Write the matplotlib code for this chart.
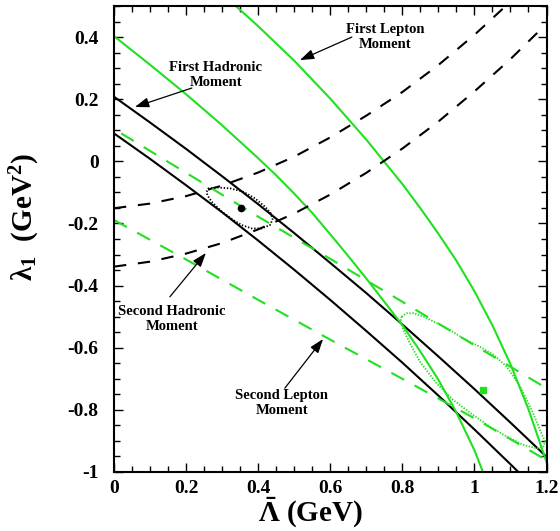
import matplotlib
matplotlib.use("Agg")
import matplotlib.pyplot as plt
from matplotlib.ticker import MultipleLocator, FixedLocator, FixedFormatter

plt.rcParams['font.family'] = ['Liberation Serif', 'DejaVu Serif']
plt.rcParams['mathtext.fontset'] = 'custom'
plt.rcParams['mathtext.rm'] = 'Liberation Serif:bold'
plt.rcParams['mathtext.it'] = 'Liberation Serif:bold'
plt.rcParams['mathtext.bf'] = 'Liberation Serif:bold'
plt.rcParams['lines.scale_dashes'] = False

# ---------------- data ----------------
# First hadronic moment band (black solid)
h1_up_x = [0, 0.1, 0.2, 0.3, 0.4, 0.5, 0.6, 0.7, 0.8, 0.9, 1.0, 1.1, 1.2]
h1_up_y = [0.208, 0.125, 0.040, -0.048, -0.138, -0.231, -0.327, -0.424, -0.525, -0.628, -0.733, -0.841, -0.951]
h1_lo_x = [0, 0.1, 0.2, 0.3, 0.4, 0.5, 0.6, 0.7, 0.8, 0.9, 1.0, 1.1, 1.122]
h1_lo_y = [0.090, 0.008, -0.077, -0.164, -0.255, -0.349, -0.446, -0.546, -0.648, -0.754, -0.863, -0.975, -1.0]

# First lepton moment band (green solid)
l1_a_x = [0, 0.1, 0.2, 0.3, 0.4, 0.45, 0.5, 0.55, 0.6, 0.65, 0.7, 0.75, 0.8, 0.85, 0.9, 0.95, 1.0, 1.022]
l1_a_y = [0.403, 0.311, 0.216, 0.116, 0.010, -0.045, -0.104, -0.166, -0.235, -0.305, -0.377, -0.452,
          -0.527, -0.612, -0.703, -0.808, -0.930, -0.995]
l1_b_x = [0.338, 0.4, 0.5, 0.6, 0.7, 0.8, 0.85, 0.9, 0.95, 1.0, 1.05, 1.1, 1.15, 1.2]
l1_b_y = [0.5, 0.435, 0.324, 0.202, 0.070, -0.073, -0.151, -0.233, -0.320, -0.418, -0.528, -0.653,
          -0.798, -0.968]

# Second hadronic moment band (black dashed)
h2_up_x = [0, 0.1, 0.2, 0.3, 0.4, 0.5, 0.6, 0.7, 0.8, 0.9, 1.0, 1.087]
h2_up_y = [-0.151, -0.136, -0.112, -0.078, -0.036, 0.015, 0.077, 0.147, 0.223, 0.310, 0.407, 0.50]
h2_lo_x = [0, 0.1, 0.2, 0.3, 0.4, 0.5, 0.6, 0.7, 0.8, 0.9, 1.0, 1.1, 1.18]
h2_lo_y = [-0.339, -0.323, -0.297, -0.263, -0.219, -0.168, -0.107, -0.037, 0.041, 0.128, 0.225, 0.329, 0.42]

# Second lepton moment band (green dashed)
l2_up_x = [0.02, 0.2, 0.4, 0.6, 0.8, 1.0, 1.185]
l2_up_y = [0.09, -0.037, -0.178, -0.314, -0.452, -0.592, -0.72]
l2_lo_x = [0, 0.2, 0.4, 0.6, 0.8, 1.0, 1.2]
l2_lo_y = [-0.189, -0.316, -0.446, -0.574, -0.700, -0.827, -0.962]

# Hadronic fit contour (black dotted) and best fit point
hfit_x = [0.257, 0.262, 0.285, 0.322, 0.359, 0.391, 0.419, 0.435, 0.440, 0.433, 0.410, 0.382,
          0.354, 0.331, 0.299, 0.271, 0.259, 0.257]
hfit_y = [-0.098, -0.087, -0.084, -0.087, -0.098, -0.119, -0.146, -0.167, -0.187, -0.205, -0.216,
          -0.216, -0.205, -0.189, -0.162, -0.130, -0.109, -0.098]
hbest = (0.352, -0.150)

# Leptonic fit contour (green dotted) and best fit point
lfit_x = [0.798, 0.812, 0.831, 0.859, 0.896, 0.932, 0.969, 1.016, 1.053, 1.090, 1.127, 1.159, 1.182,
          1.196, 1.191, 1.173, 1.136, 1.090, 1.043, 0.997, 0.941, 0.895, 0.849, 0.821, 0.803, 0.795, 0.798]
lfit_y = [-0.500, -0.489, -0.489, -0.500, -0.521, -0.543, -0.570, -0.597, -0.623, -0.661, -0.725,
          -0.800, -0.865, -0.902, -0.918, -0.924, -0.913, -0.886, -0.854, -0.817, -0.768, -0.715,
          -0.645, -0.586, -0.543, -0.516, -0.500]
lbest = (1.025, -0.735)

x_ticks = [0, 0.2, 0.4, 0.6, 0.8, 1.0, 1.2]
x_ticklabels = ["0", "0.2", "0.4", "0.6", "0.8", "1", "1.2"]
y_ticks = [-1, -0.8, -0.6, -0.4, -0.2, 0, 0.2, 0.4]
y_ticklabels = ["-1", "-0.8", "-0.6", "-0.4", "-0.2", "0", "0.2", "0.4"]

# annotations: text, text position, arrow tail, arrow head
annotations = [
    ("First Hadronic\nMoment", (0.283, 0.278), (0.216, 0.236), (0.058, 0.175)),
    ("First Lepton\nMoment", (0.752, 0.400), (0.660, 0.400), (0.516, 0.326)),
    ("Second Hadronic\nMoment", (0.161, -0.508), (0.155, -0.436), (0.255, -0.295)),
    ("Second Lepton\nMoment", (0.466, -0.778), (0.474, -0.730), (0.580, -0.572)),
]

# ---------------- drawing ----------------
GREEN = '#20e020'
fig = plt.figure(figsize=(5.6, 5.31), dpi=100)
ax = fig.add_axes([114 / 560, 1 - 472 / 531, 432.5 / 560, 466 / 531])

lw = 1.5
ax.plot(h1_up_x, h1_up_y, color='black', lw=lw)
ax.plot(h1_lo_x, h1_lo_y, color='black', lw=lw)
ax.plot(l1_a_x, l1_a_y, color=GREEN, lw=lw)
ax.plot(l1_b_x, l1_b_y, color=GREEN, lw=lw)
ax.plot(h2_up_x, h2_up_y, color='black', lw=lw, dashes=(8.9, 8.4))
ax.plot(h2_lo_x, h2_lo_y, color='black', lw=lw, dashes=(8.9, 8.4))
ax.plot(l2_up_x, l2_up_y, color=GREEN, lw=lw, dashes=(10.5, 8.5))
ax.plot(l2_lo_x, l2_lo_y, color=GREEN, lw=lw, dashes=(10.5, 8.5))

ax.plot(hfit_x, hfit_y, color='black', lw=1.3, dashes=(1.0, 1.3))
ax.plot(lfit_x, lfit_y, color=GREEN, lw=1.3, dashes=(1.0, 1.1))
ax.plot([hbest[0]], [hbest[1]], 'o', color='black', ms=4.5)
ax.plot([lbest[0]], [lbest[1]], 's', color=GREEN, ms=4.5)

for txt, tpos, tail, head in annotations:
    ax.text(tpos[0], tpos[1], txt, ha='center', va='center', multialignment='center',
            fontsize=10.5, fontweight='bold', linespacing=1.25)
    ax.annotate('', xy=head, xytext=tail,
                arrowprops=dict(arrowstyle='-|>,head_length=0.85,head_width=0.3',
                                color='black', lw=0.9, shrinkA=0, shrinkB=0))

ax.set_xlim(0, 1.2)
ax.set_ylim(-1, 0.5)
ax.xaxis.set_major_locator(FixedLocator(x_ticks))
ax.xaxis.set_major_formatter(FixedFormatter(x_ticklabels))
ax.yaxis.set_major_locator(FixedLocator(y_ticks))
ax.yaxis.set_major_formatter(FixedFormatter(y_ticklabels))
ax.xaxis.set_minor_locator(MultipleLocator(0.05))
ax.yaxis.set_minor_locator(MultipleLocator(0.05))
ax.tick_params(which='both', direction='in', top=True, right=True, width=1.0)
ax.tick_params(which='major', length=6.5)
ax.tick_params(which='minor', length=4)
ax.tick_params(axis='y', which='major', pad=11)
ax.tick_params(axis='x', which='major', pad=6)
for lab in ax.get_xticklabels() + ax.get_yticklabels():
    lab.set_fontsize(14)
    lab.set_fontweight('bold')
for s in ax.spines.values():
    s.set_linewidth(1.5)

ax.set_xlabel(r'$\bar{\Lambda}$ (GeV)', fontsize=21, fontweight='bold')
ax.xaxis.set_label_coords(0.455, -0.088)
ax.xaxis.label.set_va('center')
ax.set_ylabel(r'$\lambda_1$  (GeV$^2$)', fontsize=21, fontweight='bold')
ax.yaxis.set_label_coords(-0.205, 0.547)
ax.yaxis.label.set_va('center')

fig.savefig('out.png', dpi=100)
